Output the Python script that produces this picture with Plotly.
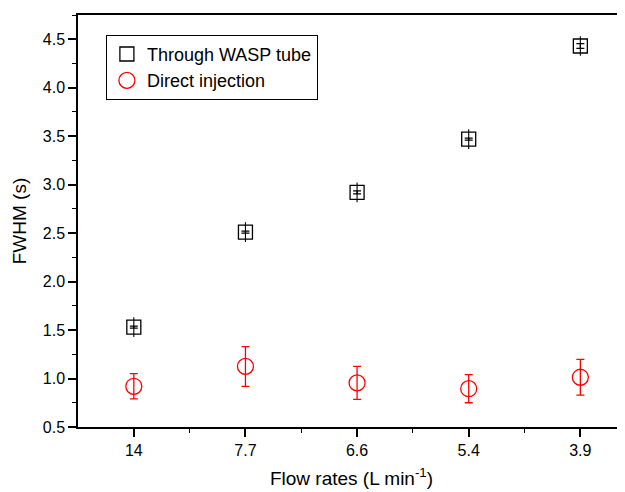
import plotly.graph_objects as go

categories = ["14", "7.7", "6.6", "5.4", "3.9"]
wasp_vals = [1.53, 2.51, 2.92, 3.47, 4.43]
wasp_err = [0.01, 0.01, 0.015, 0.01, 0.025]
direct_vals = [0.92, 1.125, 0.955, 0.895, 1.013]
direct_err = [0.13, 0.205, 0.17, 0.145, 0.185]
y_ticks = [0.5, 1.0, 1.5, 2.0, 2.5, 3.0, 3.5, 4.0, 4.5]

xpos = list(range(len(categories)))
FONT = "Liberation Sans, Arial, sans-serif"

fig = go.Figure()
fig.add_trace(go.Scatter(
    x=xpos, y=wasp_vals, mode="markers", name="Through WASP tube",
    marker=dict(symbol="square-open", size=14, color="black", line=dict(width=1.3, color="black")),
    error_y=dict(type="data", array=wasp_err, visible=True, color="black", thickness=1.3, width=4),
))
fig.add_trace(go.Scatter(
    x=xpos, y=wasp_vals, mode="markers", showlegend=False, hoverinfo="skip",
    marker=dict(symbol="line-ns", size=14, color="black", line=dict(width=1.1, color="black")),
))
fig.add_trace(go.Scatter(
    x=xpos, y=direct_vals, mode="markers", name="Direct injection",
    marker=dict(symbol="circle-open", size=16, color="red", line=dict(width=1.3, color="red")),
    error_y=dict(type="data", array=direct_err, visible=True, color="red", thickness=1.3, width=4),
))

fig.update_layout(
    width=625, height=492,
    margin=dict(l=70, r=8, t=5, b=73),
    paper_bgcolor="white", plot_bgcolor="white",
    font=dict(family=FONT, color="black", size=16),
    legend=dict(
        x=0.051, y=0.952, xanchor="left", yanchor="top",
        bgcolor="white", bordercolor="black", borderwidth=1,
        font=dict(family=FONT, size=18, color="black"),
        tracegroupgap=0,
    ),
)
fig.update_xaxes(
    range=[-0.5, 4.4], tickmode="array", tickvals=xpos, ticktext=categories,
    showgrid=False, zeroline=False, showline=True, linecolor="black", linewidth=1.5,
    mirror=True, ticks="outside", ticklen=8, tickwidth=1.5, tickcolor="black",
    tickfont=dict(size=16),
    minor=dict(tickmode="array", tickvals=[0.5, 1.5, 2.5, 3.5], ticks="outside", ticklen=4, tickwidth=1, tickcolor="black"),
    title=dict(text="Flow rates (L min<sup>-1</sup>)", font=dict(size=19), standoff=14),
)
fig.update_yaxes(
    range=[0.5, 4.75], tickmode="array", tickvals=y_ticks,
    ticktext=[f"{v:.1f}" for v in y_ticks],
    showgrid=False, zeroline=False, showline=True, linecolor="black", linewidth=1.5,
    ticks="outside", ticklen=8, tickwidth=1.5, tickcolor="black",
    tickfont=dict(size=16),
    minor=dict(tickmode="array", tickvals=[0.75, 1.25, 1.75, 2.25, 2.75, 3.25, 3.75, 4.25, 4.75], ticks="outside", ticklen=4, tickwidth=1, tickcolor="black"),
    title=dict(text="FWHM (s)", font=dict(size=19), standoff=11),
)

fig.write_html("out.html")
